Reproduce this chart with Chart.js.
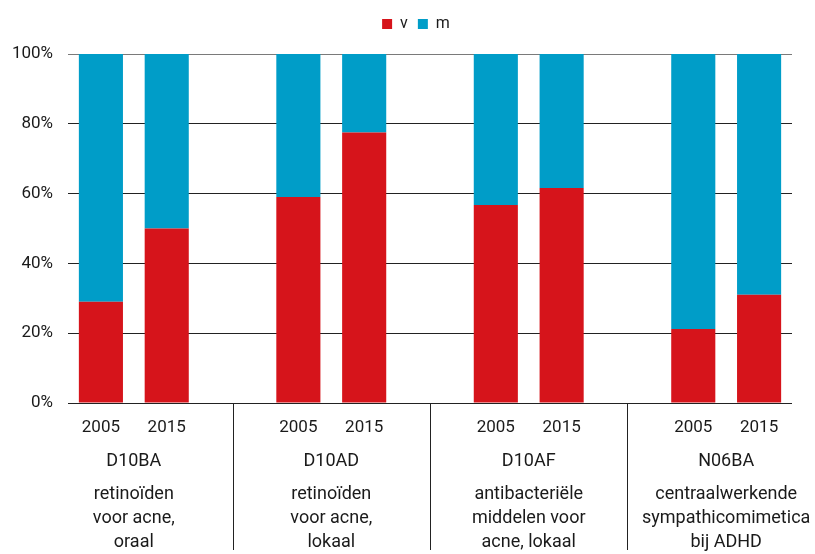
<!DOCTYPE html>
<html>
<head>
<meta charset="utf-8">
<script src="https://cdn.jsdelivr.net/npm/chart.js@4/dist/chart.umd.min.js"></script>
<style>
  html, body { margin: 0; padding: 0; background: #fff; }
  #wrap { width: 815px; height: 554px; }
</style>
</head>
<body>
<div id="wrap"><canvas id="grafico"></canvas></div>
<script>
// Categorías: dos años por grupo, con un hueco vacío entre grupos
const jaren = ['2005', '2015', '', '2005', '2015', '', '2005', '2015', '', '2005', '2015'];
const groepCodes = ['D10BA', 'D10AD', 'D10AF', 'N06BA'];
const groepOmschrijving = [
    ['retinoïden', 'voor acne,', 'oraal'],
    ['retinoïden', 'voor acne,', 'lokaal'],
    ['antibacteriële', 'middelen voor', 'acne, lokaal'],
    ['centraalwerkende', 'sympathicomimetica', 'bij ADHD']
];
// Porcentaje v (vrouw) y m (man)
const waardenV = [29, 50, null, 59, 77.5, null, 56.7, 61.6, null, 21.2, 31];
const waardenM = [71, 50, null, 41, 22.5, null, 43.3, 38.4, null, 78.8, 69];
const yTicks = [0, 20, 40, 60, 80, 100];

const fuente = 'Roboto, "DejaVu Sans", sans-serif';
const colorTexto = '#1a1a1a';

// Deja más espacio entre la leyenda y el gráfico y la centra en la página
const margenLeyenda = {
    id: 'margenLeyenda',
    beforeInit(chart) {
        const fitOriginal = chart.legend.fit;
        chart.legend.fit = function () {
            fitOriginal.bind(chart.legend)();
            this.height += 12;
        };
    },
    afterLayout(chart) {
        chart.legend.left += 20;
        chart.legend.right += 20;
    }
};

// Dibuja los nombres de grupo y las líneas separadoras bajo el eje
const groepLabels = {
    id: 'groepLabels',
    afterDraw(chart) {
        const ctx = chart.ctx;
        const x = chart.scales.x;
        const top = chart.chartArea.bottom;
        ctx.save();
        ctx.strokeStyle = '#222';
        ctx.lineWidth = 1;
        [2, 5, 8].forEach(i => {
            const px = Math.round(x.getPixelForValue(i)) + 0.5;
            ctx.beginPath();
            ctx.moveTo(px, top);
            ctx.lineTo(px, 550);
            ctx.stroke();
        });
        ctx.fillStyle = colorTexto;
        ctx.font = '18px ' + fuente;
        ctx.textAlign = 'center';
        ctx.textBaseline = 'middle';
        groepCodes.forEach((code, g) => {
            const cx = (x.getPixelForValue(g * 3) + x.getPixelForValue(g * 3 + 1)) / 2;
            ctx.fillText(code, cx, 461);
            groepOmschrijving[g].forEach((linea, j) => {
                ctx.fillText(linea, cx, 494 + j * 24);
            });
        });
        ctx.restore();
    }
};

const ctx = document.getElementById('grafico').getContext('2d');

new Chart(ctx, {
    type: 'bar',
    data: {
        labels: jaren,
        datasets: [
            { label: 'v', data: waardenV, backgroundColor: '#d6141b' },
            { label: 'm', data: waardenM, backgroundColor: '#009dc8' }
        ]
    },
    options: {
        responsive: true,
        maintainAspectRatio: false,
        animation: false,
        barPercentage: 0.67,
        categoryPercentage: 1,
        layout: { padding: { top: 6, right: 23, left: 0, bottom: 0 } },
        plugins: {
            tooltip: { enabled: false },
            legend: {
                position: 'top',
                labels: {
                    font: { family: fuente, size: 16 },
                    color: colorTexto,
                    boxWidth: 10,
                    boxHeight: 10,
                    padding: 10
                }
            }
        },
        scales: {
            x: {
                stacked: true,
                grid: { display: false, drawTicks: false },
                border: { display: false },
                ticks: {
                    font: { family: fuente, size: 17 },
                    color: colorTexto,
                    padding: 15,
                    maxRotation: 0,
                    autoSkip: false
                },
                afterFit(scale) { scale.height = 151; }
            },
            y: {
                stacked: true,
                min: 0,
                max: 100,
                afterBuildTicks(scale) { scale.ticks = yTicks.map(v => ({ value: v })); },
                grid: {
                    drawTicks: false,
                    color: c => c.tick && c.tick.value === 100 ? '#7a7a7a' : '#222',
                    lineWidth: 1
                },
                border: { display: false },
                ticks: {
                    font: { family: fuente, size: 17 },
                    color: colorTexto,
                    padding: 15,
                    callback: v => v + '%'
                },
                afterFit(scale) { scale.width = 68; }
            }
        }
    },
    plugins: [margenLeyenda, groepLabels]
});
</script>
</body>
</html>
